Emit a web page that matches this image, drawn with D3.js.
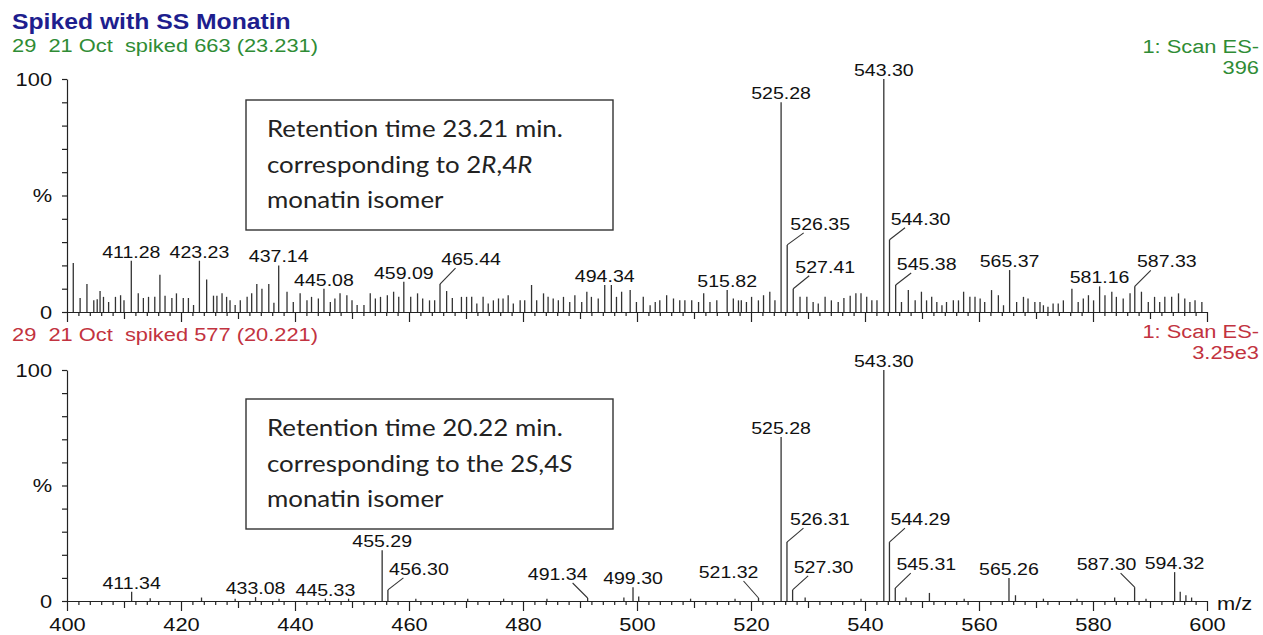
<!DOCTYPE html>
<html>
<head>
<meta charset="utf-8">
<script src="https://cdn.jsdelivr.net/npm/d3@7"></script>
<style>
  body { margin: 0; background: #fff; }
  svg text { font-family: "Liberation Sans", Arial, sans-serif; white-space: pre; }
  .box text { font-family: Lato, "Open Sans", sans-serif; }
</style>
</head>
<body>
<script>
// ---- data: [m/z, relative intensity %] ----
const upperLabeled = [
  [411.28, 22], [423.23, 22], [437.14, 20], [445.08, 10], [459.09, 13], [465.44, 12],
  [494.34, 11.6], [515.82, 9.4], [525.28, 90], [526.35, 28.8], [527.41, 10],
  [543.30, 100], [544.30, 31], [545.38, 11.6], [565.37, 18], [581.16, 11], [587.33, 11]
];
const upperNoise = [
  [401.1, 21], [402.3, 6], [403.5, 12], [404.7, 5], [405.3, 5.5], [405.8, 9], [406.4, 6.5],
  [407.3, 4.3], [408.5, 6.5], [409.4, 7.2], [410.0, 5], [412.5, 8], [413.4, 6], [414.3, 6.5],
  [415.4, 6.5], [416.3, 16], [417.2, 7], [418.4, 6], [419.2, 8], [420.4, 6], [421.3, 6],
  [422.2, 3], [424.5, 14], [425.7, 7], [426.3, 7], [427.2, 8], [428.0, 6.5], [428.6, 5],
  [429.5, 3], [430.4, 5], [431.6, 6.5], [432.4, 8], [433.3, 12], [434.2, 10], [435.4, 12],
  [436.3, 4], [438.6, 8.7], [439.7, 4.3], [440.9, 8], [442.1, 5], [442.9, 6.5], [444.1, 5.8],
  [446.2, 4.3], [447.0, 5.8], [447.9, 8], [449.1, 7.2], [450.0, 5], [450.9, 3], [452.1, 3],
  [453.2, 8], [454.1, 5.8], [455.0, 6.5], [456.2, 7.2], [457.3, 8.7], [458.2, 6.5],
  [460.3, 6.5], [461.5, 8], [462.4, 5.8], [463.6, 5], [464.5, 5], [466.6, 9], [467.6, 6],
  [469.2, 6.5], [470.1, 6.5], [471.0, 6.5], [471.9, 3.6], [473.0, 6.5], [473.9, 3.6],
  [474.8, 5], [475.7, 5.8], [476.5, 5.8], [477.4, 7.2], [478.3, 3.6], [479.5, 5], [480.3, 5],
  [481.5, 11.6], [482.4, 5], [483.6, 8], [484.4, 6.5], [485.3, 5.8], [486.2, 5], [487.1, 6.5],
  [488.2, 4.3], [489.1, 7.2], [490.3, 4.3], [491.2, 8.7], [492.0, 6.5], [493.2, 5.8],
  [495.5, 11.6], [496.4, 6.5], [497.3, 8.7], [498.8, 9.4], [499.9, 4.3], [501.1, 6.5],
  [502.3, 2.9], [503.2, 4.3], [504.0, 5], [505.2, 7.2], [506.4, 5.8], [507.5, 5], [508.4, 5],
  [509.6, 5], [510.8, 4.3], [511.7, 8], [512.8, 4.3], [514.0, 5], [516.9, 5.8], [517.8, 5],
  [518.3, 5], [519.2, 4.3], [520.1, 6.5], [521.3, 5], [522.2, 7.2], [523.3, 8.7], [524.2, 5],
  [528.6, 6.5], [529.8, 6.5], [530.9, 4.3], [531.8, 3.6], [533.0, 6.5], [534.1, 5],
  [535.3, 4.3], [536.3, 6], [537.4, 7], [538.4, 8], [539.3, 8], [540.3, 6.5], [541.2, 5],
  [542.1, 5], [546.4, 4.3], [547.6, 9.4], [548.8, 5], [549.9, 8.7], [550.8, 5], [551.7, 6.5],
  [552.6, 4.3], [553.5, 2.9], [554.3, 4.3], [555.5, 5], [556.4, 5], [557.3, 8.7], [558.4, 6.5],
  [559.3, 6.5], [560.2, 5.8], [561.0, 4.3], [562.2, 9.4], [563.4, 7.2], [564.3, 2.9],
  [566.6, 4.3], [567.8, 6.5], [568.6, 5.8], [569.8, 4.3], [570.7, 4.3], [571.3, 2.9],
  [572.1, 2.2], [573.0, 3.6], [573.9, 3.6], [574.8, 5], [576.3, 10], [577.4, 4.3], [578.3, 5.8],
  [579.2, 7.2], [580.1, 5], [582.1, 7.2], [583.3, 8.7], [584.1, 6.5], [585.3, 5.8], [586.5, 8],
  [588.5, 8.7], [589.7, 4.3], [590.8, 6.5], [591.7, 4.3], [592.6, 6.5], [593.8, 6.5], [595.0, 8],
  [596.1, 5.8], [597.0, 4.3], [597.9, 5], [599.1, 4.3]
];
const lowerLabeled = [
  [411.34, 4], [433.08, 1.7], [445.33, 1], [455.29, 22], [456.30, 4.8], [491.34, 1.3],
  [499.30, 6], [521.32, 1.3], [525.28, 71], [526.31, 25.5], [527.30, 4.8], [543.30, 100],
  [544.29, 25.5], [545.31, 5.6], [565.26, 10], [587.30, 6], [594.32, 12.5]
];
const lowerNoise = [
  [414.6, 1.2], [423.6, 1.5], [429.5, 1], [437.2, 1], [449.4, 1], [461.2, 1], [470.3, 1],
  [476.6, 1], [484.2, 1], [497.7, 1.5], [500.3, 2], [509.4, 1], [517.2, 1], [529.5, 1.5],
  [539.3, 1], [547.2, 1.5], [551.3, 3.5], [557.4, 1], [566.4, 2.5], [571.3, 1], [577.2, 1],
  [583.8, 1.5], [589.3, 1], [595.3, 4], [596.3, 2.5], [597.3, 1.5]
];
const xTicks = d3.range(400, 601, 2);
const yTicks = d3.range(0, 101, 10);

// label shifts for crowded peaks: [dx, rise above peak top]
const labelShift = {
  '465.44': [31, 19], '526.35': [33, 15], '527.41': [32, 16], '544.30': [31, 15],
  '545.38': [31, 15], '587.33': [32, 19],
  '456.30': [31, 15], '491.34': [-30, 18], '521.32': [-30, 20], '526.31': [33, 17],
  '527.30': [31, 17], '544.29': [31, 17], '545.31': [31, 18], '587.30': [-28, 17]
};

const SX = 1.15; // picture is stretched horizontally
const W = 1263, H = 635;
const svg = d3.select('body').append('svg').attr('width', W).attr('height', H);

const x = d3.scaleLinear().domain([400, 600]).range([67, 1207]);
const fmt = d3.format('.2f');

function stxt(parent, tx, ty, str, anchor, size) {
  return parent.append('text')
    .attr('transform', `translate(${tx},${ty}) scale(${SX},1)`)
    .attr('text-anchor', anchor || 'start')
    .attr('font-size', size || 17)
    .text(str);
}

// title
stxt(svg, 12, 29, 'Spiked with SS Monatin', 'start', 21.5)
  .attr('font-weight', 'bold').attr('fill', '#1e1e8e');

function panel(cfg) {
  const y = d3.scaleLinear().domain([0, 100]).range([cfg.base, cfg.top]);
  const g = svg.append('g');

  stxt(g, 12, cfg.subY, cfg.sub, 'start', 19).attr('fill', cfg.color);
  stxt(g, 1259, cfg.scanY, '1: Scan ES-', 'end', 19).attr('fill', cfg.color);
  stxt(g, 1259, cfg.scanY + 21, cfg.scale, 'end', 19).attr('fill', cfg.color);

  // y axis
  const ya = g.append('g').attr('transform', `translate(${x(400)},0)`)
    .call(d3.axisLeft(y).tickValues(yTicks).tickSize(5).tickSizeOuter(0).tickPadding(8)
      .tickFormat(d => d === 100 ? '100' : d === 50 ? '%' : d === 0 ? '0' : ''));
  ya.attr('font-family', null).attr('font-size', 19);
  ya.selectAll('text').attr('transform', `scale(${SX},1)`).attr('fill', '#111');
  ya.selectAll('line, path').attr('stroke', '#222').attr('stroke-width', 1.2);

  // x axis
  const xa = g.append('g').attr('transform', `translate(0,${cfg.base})`)
    .call(d3.axisBottom(x).tickValues(xTicks).tickSizeOuter(0)
      .tickFormat(d => cfg.labels && d % 20 === 0 ? d : ''));
  xa.attr('font-family', null).attr('font-size', 19);
  xa.selectAll('.tick line').attr('y2', d => d % 20 === 0 ? 10 : d % 10 === 0 ? 7 : 4);
  xa.selectAll('.tick text').attr('y', 17).attr('transform', `scale(${SX},1)`).attr('fill', '#111');
  xa.selectAll('line, path').attr('stroke', '#222').attr('stroke-width', 1.2);

  // peaks
  g.append('g').selectAll('line').data(cfg.noise.concat(cfg.peaks)).join('line')
    .attr('x1', d => x(d[0])).attr('x2', d => x(d[0]))
    .attr('y1', y(0)).attr('y2', d => y(d[1]))
    .attr('stroke', '#333').attr('stroke-width', 1.3);

  // labels
  cfg.peaks.forEach(d => {
    const lab = fmt(d[0]);
    const px = x(d[0]), py = y(d[1]);
    const s = labelShift[lab] || [0, 3];
    const lx = px + s[0], ly = py - s[1];
    if (s[0] !== 0) {
      g.append('line')
        .attr('x1', px).attr('y1', py)
        .attr('x2', px + s[0] * 0.5).attr('y2', ly + 3)
        .attr('stroke', '#333').attr('stroke-width', 1.1);
    }
    stxt(g, lx, ly, lab, 'middle', 17).attr('fill', '#111');
  });

  // annotation box
  const box = g.append('g').attr('class', 'box');
  box.append('rect').attr('x', 246).attr('y', cfg.boxY).attr('width', 367).attr('height', 130)
    .attr('fill', '#fff').attr('stroke', '#333').attr('stroke-width', 1.4);
  const l1 = stxt(box, 267, cfg.boxY + 37, cfg.box[0], 'start', 22.5).attr('fill', '#222');
  const l2 = stxt(box, 267, cfg.boxY + 73, '', 'start', 22.5).attr('fill', '#222');
  cfg.box[1].forEach(p => l2.append('tspan').attr('font-style', p[1] ? 'italic' : null).text(p[0]));
  stxt(box, 267, cfg.boxY + 108, cfg.box[2], 'start', 22.5).attr('fill', '#222');
}

panel({
  top: 79, base: 312, subY: 52, scanY: 53, color: '#2f8c35',
  sub: '29  21 Oct  spiked 663 (23.231)', scale: '396',
  peaks: upperLabeled, noise: upperNoise, labels: false, boxY: 100,
  box: ['Retention time 23.21 min.',
        [['corresponding to ', 0], ['2', 0], ['R', 1], [',4', 0], ['R', 1]],
        'monatin isomer']
});
panel({
  top: 370, base: 601, subY: 341, scanY: 338, color: '#c23340',
  sub: '29  21 Oct  spiked 577 (20.221)', scale: '3.25e3',
  peaks: lowerLabeled, noise: lowerNoise, labels: true, boxY: 399,
  box: ['Retention time 20.22 min.',
        [['corresponding to the ', 0], ['2', 0], ['S', 1], [',4', 0], ['S', 1]],
        'monatin isomer']
});

stxt(svg, 1217, 610, 'm/z', 'start', 19).attr('fill', '#111');
</script>
</body>
</html>
